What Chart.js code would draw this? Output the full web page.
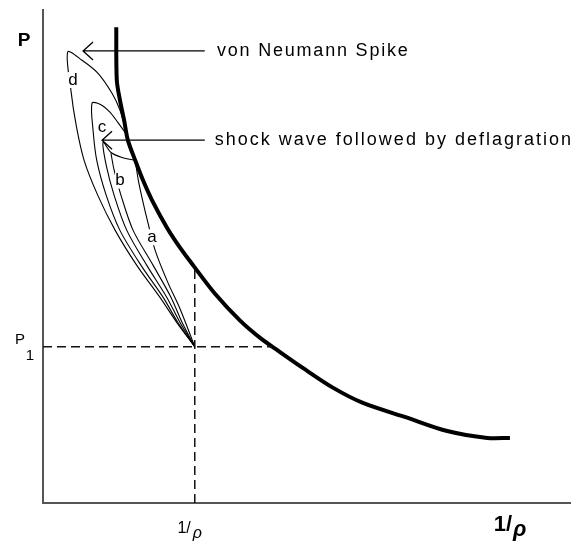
<!DOCTYPE html>
<html>
<head>
<meta charset="utf-8">
<script src="https://cdn.jsdelivr.net/npm/chart.js@4.4.1/dist/chart.umd.min.js"></script>
<style>
  html, body { margin: 0; padding: 0; background: #fff; }
  #wrap { width: 576px; height: 544px; }
</style>
</head>
<body>
<div id="wrap"><canvas id="hugoniot"></canvas></div>
<script>
// state 1 (initial point)
const v1 = 2.88;
const p1 = 3.17;

// detonation Hugoniot (thick curve)
const hugX = [1.39, 1.40, 1.46, 1.54, 1.61, 1.75, 1.90, 2.07, 2.35, 2.60, 2.85, 3.26, 3.74, 4.12, 4.46, 4.93, 5.50, 6.07, 6.91, 7.67, 8.43, 8.86];
const hugY = [9.65, 8.58, 8.17, 7.76, 7.36, 6.95, 6.54, 6.14, 5.59, 5.18, 4.82, 4.25, 3.70, 3.35, 3.09, 2.74, 2.34, 2.03, 1.73, 1.46, 1.32, 1.32];

// paths from state 1
const dX = [2.88, 2.54, 2.22, 1.78, 1.37, 1.04, 0.78, 0.63, 0.53, 0.47, 0.74, 1.04, 1.31, 1.46, 1.56];
const dY = [3.17, 3.66, 4.17, 4.82, 5.53, 6.24, 6.95, 7.66, 8.37, 9.15, 8.98, 8.72, 8.31, 7.97, 7.60];
const cX = [2.88, 2.56, 2.28, 1.86, 1.46, 1.20, 1.02, 0.95, 0.93, 1.08, 1.27, 1.42, 1.57];
const cY = [3.17, 3.66, 4.17, 4.82, 5.53, 6.24, 6.95, 7.56, 8.11, 8.09, 7.93, 7.72, 7.50];
const bX = [2.88, 2.60, 2.35, 1.97, 1.59, 1.35, 1.20, 1.14, 1.29, 1.50, 1.75];
const bY = [3.17, 3.66, 4.17, 4.82, 5.53, 6.24, 6.85, 7.32, 7.11, 7.01, 6.95];
const b2X = [2.88, 2.64, 2.43, 2.09, 1.71, 1.48, 1.35, 1.29];
const b2Y = [3.17, 3.66, 4.17, 4.82, 5.53, 6.24, 6.75, 7.09];
const aX = [1.75, 1.81, 1.89, 1.99, 2.13, 2.37, 2.60, 2.88];
const aY = [6.95, 6.54, 6.14, 5.69, 5.12, 4.47, 3.94, 3.17];

// tick labels
const xTickValues = [v1, 8.90];
const xTickLabels = ['1/ρ', '1/ρ'];
const yTickValues = [p1, 9.41];
const yTickLabels = ['P1', 'P'];

// curve letters
const curveLetters = ['d', 'c', 'b', 'a'];
const letterX = [0.57, 1.12, 1.46, 2.07];
const letterY = [8.58, 7.62, 6.54, 5.39];

// arrows with captions
const notes = ['von Neumann Spike', 'shock wave followed by deflagration'];
const noteFromX = [3.07, 3.07];
const noteToX = [0.76, 1.12];
const noteY = [9.17, 7.36];
const noteTextX = [3.30, 3.26];

function pts(xs, ys) {
    return xs.map((x, i) => ({ x: x, y: ys[i] }));
}

function thin(data) {
    return { data: data, borderColor: '#000', borderWidth: 1.1, tension: 0.3, pointRadius: 0, showLine: true, fill: false };
}

const labelsPlugin = {
    id: 'labels',
    afterDraw(chart) {
        const c = chart.ctx;
        const xs = chart.scales.x;
        const ys = chart.scales.y;
        c.save();
        c.fillStyle = '#000';
        c.strokeStyle = '#000';
        c.textBaseline = 'middle';
        c.textAlign = 'center';

        // curve letters (white box cuts the line)
        c.font = '17px "Liberation Sans", Arial, sans-serif';
        curveLetters.forEach((t, i) => {
            const px = xs.getPixelForValue(letterX[i]);
            const py = ys.getPixelForValue(letterY[i]);
            c.fillStyle = '#fff';
            c.fillRect(px - 5, py - 8, 10, 16);
            c.fillStyle = '#000';
            c.fillText(t, px, py);
        });

        // arrows
        c.lineWidth = 1.3;
        c.font = '18px "Liberation Sans", Arial, sans-serif';
        notes.forEach((t, i) => {
            const x0 = xs.getPixelForValue(noteFromX[i]);
            const x1 = xs.getPixelForValue(noteToX[i]);
            const y = ys.getPixelForValue(noteY[i]);
            c.beginPath();
            c.moveTo(x0, y);
            c.lineTo(x1, y);
            c.moveTo(x1 + 10, y - 9);
            c.lineTo(x1, y);
            c.lineTo(x1 + 10, y + 9);
            c.stroke();
            c.textAlign = 'left';
            c.letterSpacing = i === 0 ? '1.8px' : '2px';
            c.fillText(t, xs.getPixelForValue(noteTextX[i]), y);
        });
        c.letterSpacing = '0px';

        // x tick labels
        const bottom = chart.chartArea.bottom;
        xTickValues.forEach((v, i) => {
            const px = xs.getPixelForValue(v);
            const bold = i === 1;
            c.font = (bold ? 'bold 22px ' : '16px ') + '"Liberation Sans", Arial, sans-serif';
            c.textAlign = 'right';
            c.textBaseline = 'alphabetic';
            const parts = xTickLabels[i].split('/');
            c.fillText(parts[0] + '/', px + (bold ? 0 : -4), bottom + (bold ? 28 : 30));
            c.font = (bold ? 'bold italic 22px ' : 'italic 16px ') + '"Liberation Sans", Arial, sans-serif';
            c.textAlign = 'left';
            c.fillText(parts[1], px + (bold ? 1 : -2), bottom + (bold ? 33 : 35));
        });

        // y tick labels
        const left = chart.chartArea.left;
        yTickValues.forEach((v, i) => {
            const py = ys.getPixelForValue(v);
            const lbl = yTickLabels[i];
            c.textAlign = 'center';
            c.textBaseline = 'alphabetic';
            if (lbl === 'P') {
                c.font = 'bold 19px "Liberation Sans", Arial, sans-serif';
                c.fillText(lbl, left - 19, py + 7);
            } else {
                c.font = '15px "Liberation Sans", Arial, sans-serif';
                c.fillText('P', left - 23, py - 3);
                c.fillText('1', left - 13, py + 13);
            }
        });
        c.restore();
    }
};

const ctx = document.getElementById('hugoniot');
const hugoniotChart = new Chart(ctx, {
    type: 'scatter',
    data: {
        datasets: [
            { data: [{ x: 0, y: p1 }, { x: 4.35, y: p1 }], borderColor: '#111', borderWidth: 1.5, borderDash: [9, 5], pointRadius: 0, showLine: true },
            { data: [{ x: v1, y: 0 }, { x: v1, y: 4.78 }], borderColor: '#111', borderWidth: 1.5, borderDash: [9, 5], pointRadius: 0, showLine: true },
            thin(pts(dX, dY)),
            thin(pts(cX, cY)),
            thin(pts(bX, bY)),
            thin(pts(b2X, b2Y)),
            thin(pts(aX, aY)),
            { data: pts(hugX, hugY), borderColor: '#000', borderWidth: 4, tension: 0.3, pointRadius: 0, showLine: true }
        ]
    },
    options: {
        responsive: true,
        maintainAspectRatio: false,
        animation: false,
        layout: { padding: { left: 35, top: 10, right: 6, bottom: 33 } },
        plugins: { legend: { display: false }, tooltip: { enabled: false } },
        scales: {
            x: {
                type: 'linear', min: 0, max: 10,
                grid: { display: false },
                ticks: { display: false },
                border: { color: '#555', width: 2 }
            },
            y: {
                type: 'linear', min: 0, max: 10,
                grid: { display: false },
                ticks: { display: false },
                border: { color: '#555', width: 2 }
            }
        }
    },
    plugins: [labelsPlugin]
});
</script>
</body>
</html>
